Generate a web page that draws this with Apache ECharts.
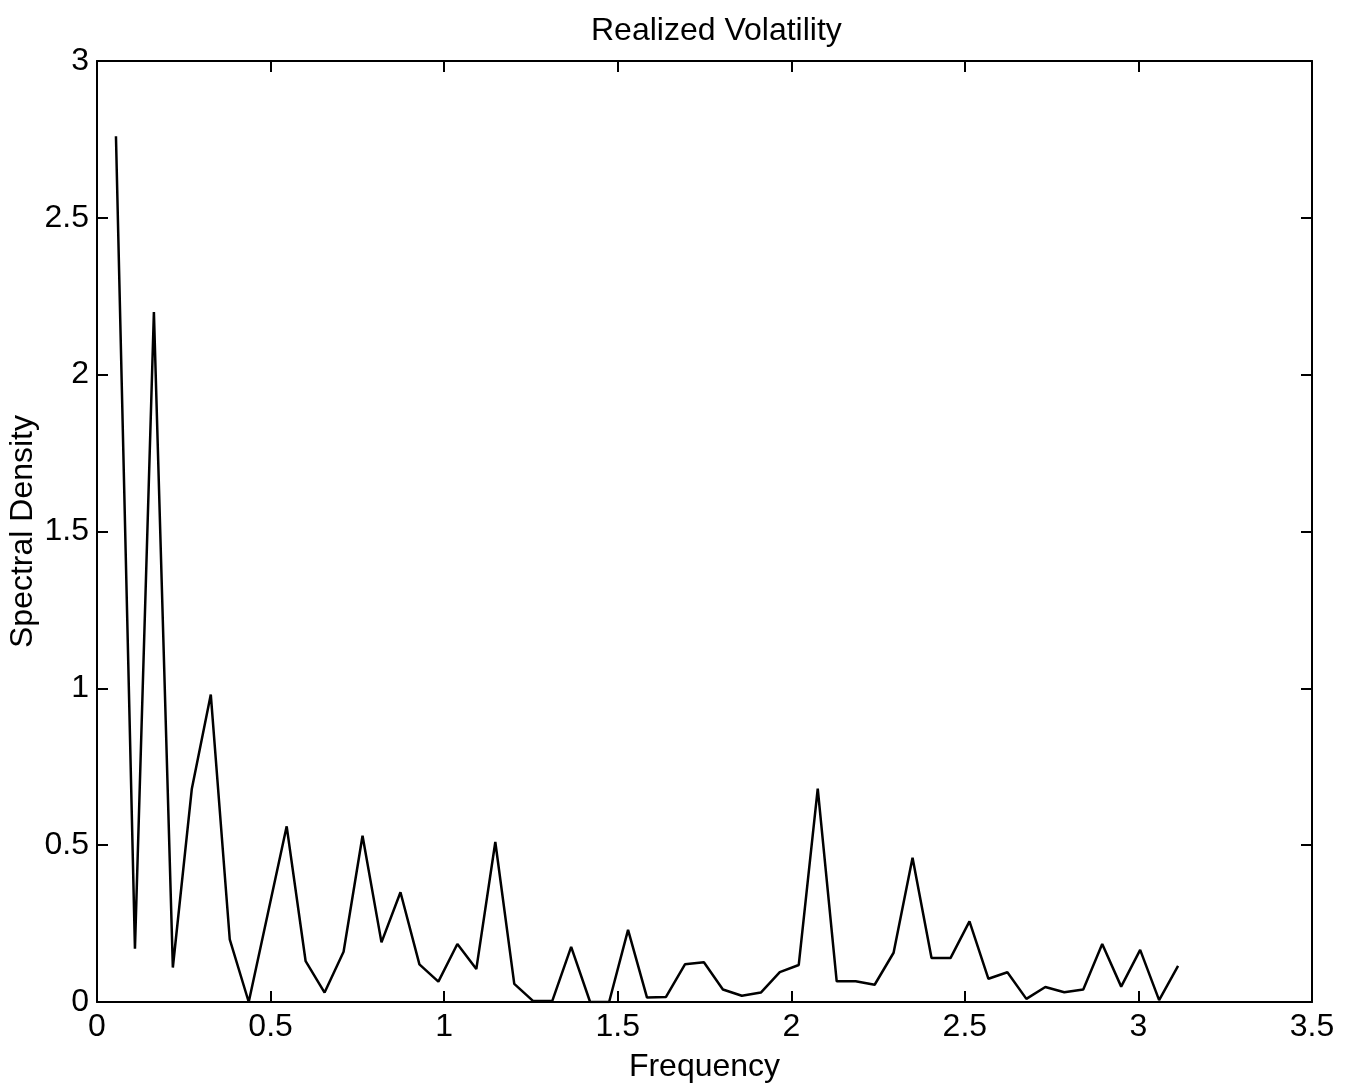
<!DOCTYPE html>
<html>
<head>
<meta charset="utf-8">
<script src="https://cdn.jsdelivr.net/npm/echarts@6/dist/echarts.min.js"></script>
<style>
  html, body { margin: 0; padding: 0; background: #fff; }
  #chart { width: 1347px; height: 1086px; }
</style>
</head>
<body>
<div id="chart"></div>
<script>
// Fourier frequencies (2*pi*j/115, j = 1..57)
const frequencies = [
  0.0546, 0.1093, 0.1639, 0.2185, 0.2732, 0.3278, 0.3824, 0.4371, 0.4917, 0.5464,
  0.6010, 0.6556, 0.7103, 0.7649, 0.8195, 0.8742, 0.9288, 0.9834, 1.0381, 1.0927,
  1.1474, 1.2020, 1.2566, 1.3113, 1.3659, 1.4205, 1.4752, 1.5298, 1.5844, 1.6391,
  1.6937, 1.7483, 1.8030, 1.8576, 1.9123, 1.9669, 2.0215, 2.0762, 2.1308, 2.1854,
  2.2401, 2.2947, 2.3493, 2.4040, 2.4586, 2.5133, 2.5679, 2.6225, 2.6772, 2.7318,
  2.7864, 2.8411, 2.8957, 2.9503, 3.0050, 3.0596, 3.1142
]

// spectral density
const density = [
  2.76, 0.17, 2.20, 0.11, 0.68, 0.98, 0.20, 0.00, 0.28, 0.56,
  0.13, 0.03, 0.16, 0.53, 0.19, 0.35, 0.12, 0.065, 0.185, 0.105,
  0.51, 0.058, 0.003, 0.003, 0.176, 0.0, 0.0, 0.23, 0.014, 0.016,
  0.12, 0.127, 0.04, 0.02, 0.03, 0.095, 0.118, 0.68, 0.066, 0.066,
  0.055, 0.157, 0.46, 0.14, 0.14, 0.257, 0.074, 0.095, 0.01, 0.048,
  0.031, 0.04, 0.185, 0.049, 0.166, 0.006, 0.115
]

const titleText = 'Realized Volatility'
const xName = 'Frequency'
const yName = 'Spectral Density'

const font = 'Liberation Sans, Arial, Helvetica, sans-serif'
const ink = '#000'

const chart = echarts.init(document.getElementById('chart'))

const axisBase = {
  type: 'value',
  axisLine: { show: true, onZero: false, lineStyle: { color: ink, width: 2 } },
  axisTick: { show: true, inside: true, length: 11, lineStyle: { color: ink, width: 2 } },
  splitLine: { show: false },
  axisLabel: { color: ink, fontFamily: font, fontSize: 32 }
}

chart.setOption({
  backgroundColor: '#fff',
  animation: false,
  title: {
    text: titleText,
    left: 586,
    top: 10,
    textStyle: { color: ink, fontFamily: font, fontSize: 32, fontWeight: 'normal' }
  },
  grid: { left: 97, right: 35, top: 61, bottom: 84, outerBoundsMode: 'none', containLabel: false },
  xAxis: [
    {
      ...axisBase,
      position: 'bottom',
      min: 0,
      max: 3.5,
      interval: 0.5,
      name: xName,
      nameLocation: 'middle',
      nameGap: 49,
      nameMoveOverlap: false,
      nameTextStyle: { color: ink, fontFamily: font, fontSize: 32 },
      axisLabel: { ...axisBase.axisLabel, margin: 9 }
    },
    {
      ...axisBase,
      position: 'top',
      min: 0,
      max: 3.5,
      interval: 0.5,
      axisLabel: { show: false }
    }
  ],
  yAxis: [
    {
      ...axisBase,
      position: 'left',
      min: 0,
      max: 3,
      interval: 0.5,
      name: yName,
      nameLocation: 'middle',
      nameGap: 58,
      nameMoveOverlap: false,
      nameTextStyle: { color: ink, fontFamily: font, fontSize: 32 },
      axisLabel: { ...axisBase.axisLabel, margin: 8 }
    },
    {
      ...axisBase,
      position: 'right',
      min: 0,
      max: 3,
      interval: 0.5,
      axisLabel: { show: false }
    }
  ],
  series: [
    {
      type: 'line',
      data: frequencies.map((f, i) => [f, density[i]]),
      showSymbol: false,
      symbol: 'none',
      lineStyle: { color: ink, width: 2.5 },
      silent: true
    }
  ]
})

window.addEventListener('resize', () => chart.resize())
</script>
</body>
</html>
